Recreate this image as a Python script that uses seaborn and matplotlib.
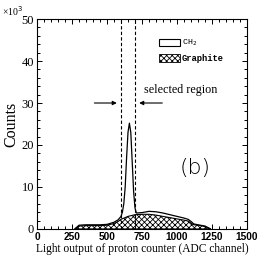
import matplotlib
matplotlib.use("Agg")
import matplotlib.pyplot as plt
import seaborn as sns
import pandas as pd
from matplotlib.ticker import MultipleLocator
from matplotlib.patches import Rectangle

sns.set_theme(style="ticks")
plt.rcParams['font.family'] = ['Liberation Serif', 'DejaVu Serif']
plt.rcParams['hatch.linewidth'] = 0.6
for k in ['text.color', 'axes.labelcolor', 'xtick.color', 'ytick.color',
          'axes.edgecolor']:
    plt.rcParams[k] = 'black'

# ---- data (counts in units of 10^3) ----
ch2_channel = [270, 300, 350, 400, 450, 500, 550, 580, 600, 610, 620, 630, 640,
               650, 660, 670, 680, 690, 700, 710, 750, 800, 850, 900, 950,
               1000, 1050, 1080, 1100, 1120, 1150, 1200, 1240]
ch2_counts = [0.0, 0.9, 1.0, 1.0, 1.0, 1.1, 1.6, 2.2, 3.0, 4.0, 6.0, 10.0, 17.0,
              23.0, 25.2, 23.0, 16.0, 9.0, 5.0, 3.8, 3.9, 4.2, 4.1, 3.8, 3.4,
              3.0, 2.6, 2.3, 1.8, 1.2, 1.0, 0.7, 0.0]

gr_channel = [270, 300, 350, 400, 450, 500, 550, 580, 600, 650, 700, 750, 800,
              850, 900, 950, 1000, 1050, 1080, 1100, 1120, 1150, 1200, 1240]
gr_counts = [0.0, 0.7, 0.8, 0.8, 0.8, 0.9, 1.3, 1.8, 2.3, 3.0, 3.4, 3.5, 3.5,
             3.3, 3.0, 2.7, 2.4, 2.1, 1.9, 1.4, 1.0, 0.9, 0.6, 0.0]

region_edges = [600, 700]
legend_labels = ["CH$_2$", "Graphite"]

ch2 = pd.DataFrame({"channel": ch2_channel, "counts": ch2_counts})
gr = pd.DataFrame({"channel": gr_channel, "counts": gr_counts})

fig = plt.figure(figsize=(2.57, 2.57), dpi=100)
ax = fig.add_axes([0.144, 0.109, 0.817, 0.817])

ax.fill_between(gr["channel"], gr["counts"], 0, facecolor="white",
                edgecolor="black", hatch="xxxxxx", linewidth=0.8)
sns.lineplot(data=ch2, x="channel", y="counts", ax=ax, color="black",
             linewidth=0.9, estimator=None, sort=False)

for e in region_edges:
    ax.axvline(e, color="black", linestyle=(0, (3, 2)), linewidth=0.8)

ax.annotate("", xy=(590, 30), xytext=(390, 30),
            arrowprops=dict(arrowstyle="-|>", color="black", lw=0.8,
                            mutation_scale=6))
ax.annotate("", xy=(710, 30), xytext=(915, 30),
            arrowprops=dict(arrowstyle="-|>", color="black", lw=0.8,
                            mutation_scale=6))
ax.text(762, 33, "selected region", fontsize=8.7, va="center", ha="left")
ax.text(1130, 14.5, "(b)", fontsize=16, va="center", ha="center",
        family=["DejaVu Sans"], fontweight="light", color="black")

# legend drawn manually
ax.add_patch(Rectangle((0.58, 0.871), 0.10, 0.034, transform=ax.transAxes,
                       facecolor="white", edgecolor="black", lw=0.8))
ax.add_patch(Rectangle((0.58, 0.795), 0.10, 0.038, transform=ax.transAxes,
                       facecolor="white", edgecolor="black", lw=0.6,
                       hatch="xxxxxx"))
ax.text(0.69, 0.888, legend_labels[0], transform=ax.transAxes, fontsize=6,
        va="center", ha="left", family=["Liberation Mono"])
ax.text(0.69, 0.814, legend_labels[1], transform=ax.transAxes, fontsize=6.3,
        va="center", ha="left", family=["Liberation Mono"], fontweight="bold")

ax.set_xlim(0, 1500)
ax.set_ylim(0, 50)
ax.xaxis.set_major_locator(MultipleLocator(250))
ax.xaxis.set_minor_locator(MultipleLocator(50))
ax.yaxis.set_major_locator(MultipleLocator(10))
ax.yaxis.set_minor_locator(MultipleLocator(2))
ax.tick_params(which="both", direction="in", top=True, right=True,
               width=0.7, pad=2)
ax.tick_params(which="major", length=3.5)
ax.tick_params(which="minor", length=2)
for lab in ax.get_xticklabels():
    lab.set_family(["Liberation Sans"])
    lab.set_fontweight("bold")
    lab.set_fontsize(7.3)
for lab in ax.get_yticklabels():
    lab.set_fontsize(9)
for s in ax.spines.values():
    s.set_linewidth(0.8)

ax.set_xlabel("Light output of proton counter (ADC channel)", fontsize=8.3,
              labelpad=1)
ax.set_ylabel("Counts", fontsize=11.5, labelpad=2)
fig.text(0.008, 0.985, "×10$^3$", fontsize=7, va="top", ha="left")

fig.savefig("out.png", dpi=100)
